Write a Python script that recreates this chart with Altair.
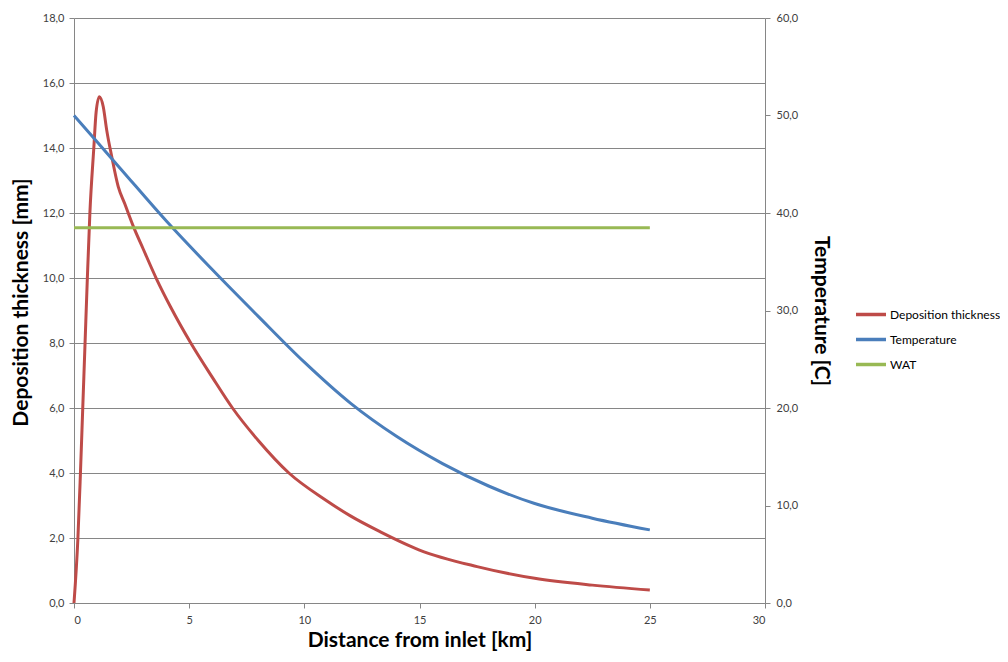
import altair as alt
import pandas as pd

# Deposition thickness [mm] vs distance [km]
dep_x = [0, 0.17, 0.28, 0.38, 0.48, 0.58, 0.69, 0.86, 0.96, 1.1, 1.27, 1.42, 1.64, 1.92,
         2.2, 2.58, 3.0, 3.59, 4.2, 5.07, 6.0, 6.88, 8.0, 9.33, 10.92, 12.0, 13.3, 15.0,
         17.5, 20.0, 22.5, 25.0]
dep_y = [0, 2.0, 4.0, 6.0, 8.0, 10.0, 12.0, 14.0, 15.1, 15.58, 15.27, 14.55, 13.73, 12.81,
         12.29, 11.58, 10.9, 9.96, 9.1, 8.0, 6.95, 6.0, 5.0, 4.0, 3.17, 2.68, 2.19, 1.63,
         1.12, 0.76, 0.55, 0.40]

# Temperature [C] vs distance [km]
temp_x = [0, 2, 4, 6, 8, 10, 12, 14, 16, 18, 20, 22.5, 25.0]
temp_y = [50.0, 44.6, 39.2, 34.2, 29.4, 24.7, 20.5, 17.1, 14.3, 12.0, 10.2, 8.7, 7.5]

# WAT [C]
wat_x = [0, 25]
wat_y = [38.5, 38.5]

series_names = ["Deposition thickness", "Temperature", "WAT"]
series_colors = ["#BE4B48", "#4A7EBB", "#98B954"]

x_ticks = [0, 5, 10, 15, 20, 25, 30]
left_ticks = [0, 2, 4, 6, 8, 10, 12, 14, 16, 18]
right_ticks = [0, 10, 20, 30, 40, 50, 60]

dep_df = pd.DataFrame({"x": dep_x, "y": dep_y, "series": series_names[0]})
temp_df = pd.DataFrame({
    "x": temp_x + wat_x,
    "y": temp_y + wat_y,
    "series": [series_names[1]] * len(temp_x) + [series_names[2]] * len(wat_x),
})

label_expr = "replace(format(datum.value, '.1f'), '.', ',')"

color = alt.Color(
    "series:N",
    scale=alt.Scale(domain=series_names, range=series_colors),
    legend=alt.Legend(
        title=None, orient="none", legendX=780, legendY=287,
        symbolType="M-1,0H3", symbolSize=225, symbolStrokeWidth=3.5,
        labelFont="Lato", labelFontSize=12, labelColor="#000000",
        rowPadding=8, labelOffset=17,
    ),
)

x_enc = alt.X(
    "x:Q",
    scale=alt.Scale(domain=[0, 30], nice=False),
    axis=alt.Axis(
        title="Distance from inlet [km]", values=x_ticks, grid=False,
        tickSize=5, labelPadding=6, titlePadding=4,
    ),
)

dep = alt.Chart(dep_df).mark_line(strokeWidth=3, interpolate="monotone").encode(
    x=x_enc,
    y=alt.Y(
        "y:Q",
        scale=alt.Scale(domain=[0, 18], nice=False),
        axis=alt.Axis(
            title="Deposition thickness [mm]", values=left_ticks, grid=True,
            labelExpr=label_expr, tickSize=5, labelPadding=5, titlePadding=11,
            titleY=284, orient="left",
        ),
    ),
    color=color,
)

temp = alt.Chart(temp_df).mark_line(strokeWidth=3, interpolate="monotone").encode(
    x=x_enc,
    y=alt.Y(
        "y:Q",
        scale=alt.Scale(domain=[0, 60], nice=False),
        axis=alt.Axis(
            title="Temperature [C]", values=right_ticks, grid=False,
            labelExpr=label_expr, tickSize=5, labelPadding=6, titlePadding=13,
            orient="right",
        ),
    ),
    color=color,
    detail="series:N",
)

chart = (
    alt.layer(dep, temp)
    .resolve_scale(y="independent")
    .properties(
        width=691, height=585,
        autosize=alt.AutoSizeParams(type="none"),
        padding={"left": 66, "top": 10, "right": 235, "bottom": 51},
        background="white",
    )
    .configure_view(stroke=None)
    .configure_axis(
        labelFont="Lato", labelFontSize=11, labelColor="#404040",
        titleFont="Lato", titleFontSize=21, titleFontWeight="bold", titleColor="#000000",
        domainColor="#868686", tickColor="#868686", gridColor="#868686",
        domainWidth=1, tickWidth=1, gridWidth=1,
    )
)

chart.save("out.html", embed_options={"renderer": "svg", "actions": False})
